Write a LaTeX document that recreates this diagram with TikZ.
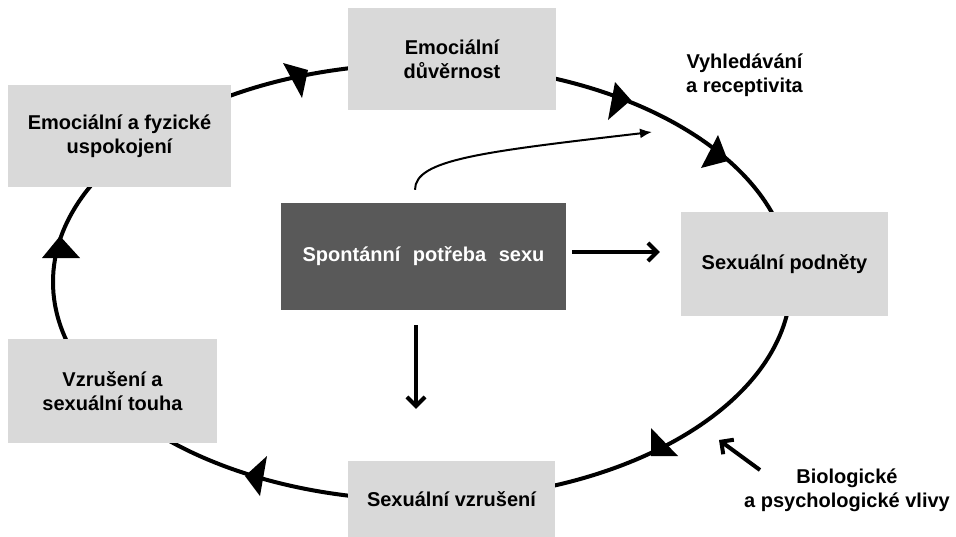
\documentclass[tikz,border=0pt]{standalone}
\usepackage{fontspec}
\setmainfont{Liberation Sans}
\usetikzlibrary{arrows.meta}
\definecolor{boxgray}{HTML}{D9D9D9}
\definecolor{darkbox}{HTML}{595959}
\begin{document}
\begin{tikzpicture}[x=1pt,y=1pt,
  txt/.style={inner sep=0pt, align=center, font=\bfseries\fontsize{20}{24}\selectfont},
  lbox/.style={txt, fill=boxgray},
  dbox/.style={txt, fill=darkbox, text=white},
  cycleline/.style={line width=4pt},
  headtri/.style={fill=black},
  bigarrow/.style={line width=4pt, -{Straight Barb[length=9pt,width=18pt]}},
  thinarrow/.style={line width=2pt, -{Latex[length=12pt,width=10pt]}}]
\useasboundingbox (0,0) rectangle (956,-536);
% cycle
\coordinate (cyc) at (422,-282);
\draw[cycleline] (cyc) ellipse [x radius=369, y radius=218];
% boxes
\node[lbox, minimum width=208pt, minimum height=102pt] (dev) at (452,-59) {Emociální\\důvěrnost};
\node[lbox, minimum width=223pt, minimum height=102pt] (usp) at (119.5,-136) {Emociální a fyzické\\uspokojení};
\node[dbox, minimum width=285pt, minimum height=107pt] (spont) at (423.5,-256.5) {Spontánní\hspace{7pt} potřeba\hspace{7pt} sexu};
\node[lbox, minimum width=207pt, minimum height=104pt] (podn) at (784.5,-264) {Sexuální podněty};
\node[lbox, minimum width=209pt, minimum height=104pt] (touha) at (112.5,-391) {Vzrušení a\\sexuální touha};
\node[lbox, minimum width=207pt, minimum height=76pt] (vzr) at (451.5,-499) {Sexuální vzrušení};
% labels
\node[txt] (vyhl) at (744.5,-75) {Vyhledávání\\a receptivita};
\node[txt] (bio) at (847,-490) {Biologické\\a psychologické vlivy};
% arrowheads on the cycle
\fill[headtri] (283,-63) -- (308,-70) -- (302,-98) -- cycle;
\fill[headtri] (615,-82) -- (631,-100) -- (608,-120) -- cycle;
\fill[headtri] (718,-135) -- (728,-161) -- (701,-168) -- cycle;
\fill[headtri] (651,-428) -- (678,-456) -- (651,-456) -- cycle;
\fill[headtri] (267,-456) -- (245,-476) -- (260,-496) -- cycle;
\fill[headtri] (60,-236) -- (42,-258) -- (80,-258) -- cycle;
% connectors
\coordinate (seekTip) at (652,-132);
\draw[thinarrow] ([xshift=-8.5pt,yshift=13pt]spont.north) .. controls +(0,30) and (480,-152) .. (seekTip);
\draw[bigarrow] ([xshift=6pt,yshift=4.5pt]spont.east) -- ([xshift=-21pt,yshift=12pt]podn.west);
\draw[bigarrow] ([xshift=-7.5pt,yshift=-15pt]spont.south) -- ([xshift=-35.5pt,yshift=52pt]vzr.north);
\coordinate (bioTail) at (760,-470);
\coordinate (bioTip) at (719,-440);
\draw[bigarrow] (bioTail) -- (bioTip);
\end{tikzpicture}
\end{document}
